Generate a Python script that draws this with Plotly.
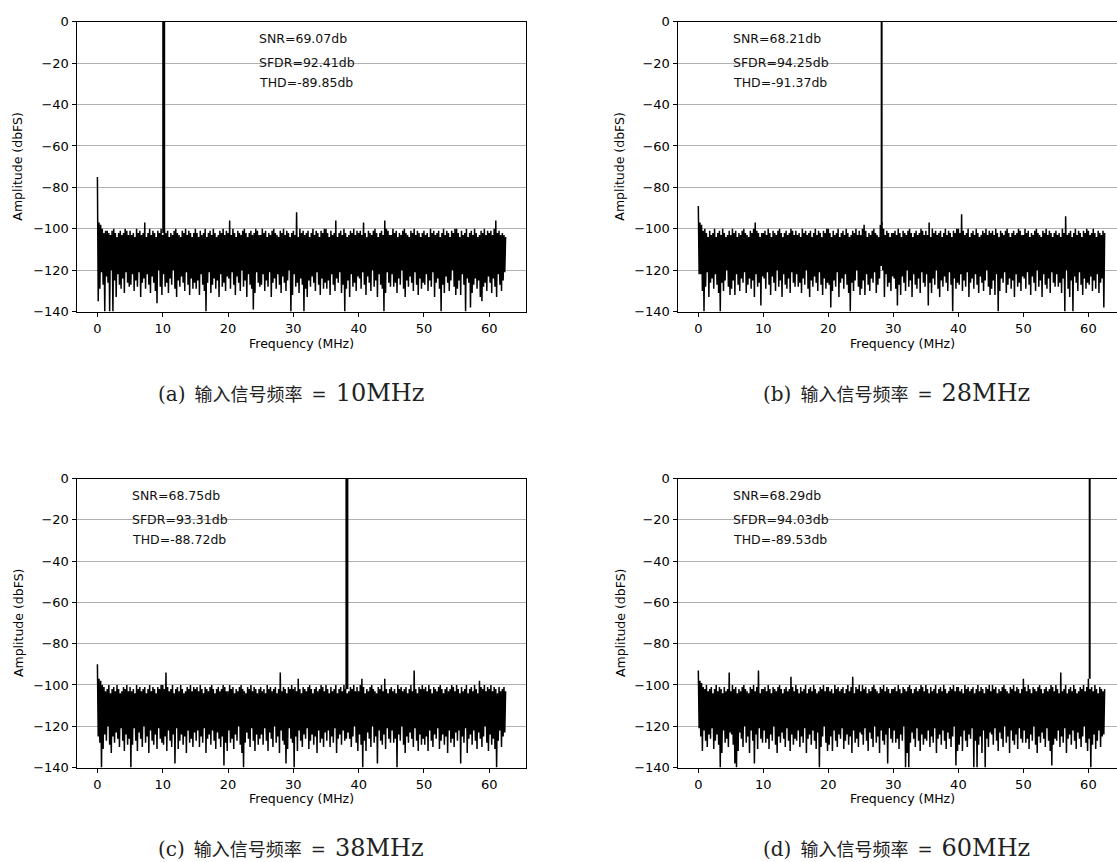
import plotly.graph_objects as go

# ---------------- data ----------------
# FFT bins: "top" samples at 0, 0.25, ... 62.5 MHz; "bottom" samples at 0.125, 0.375, ... 62.375 MHz
bin_step = 0.25
x_ticks = [0, 10, 20, 30, 40, 50, 60]
y_ticks = [0, -20, -40, -60, -80, -100, -120, -140]

cap_label = ["(a)", "(b)", "(c)", "(d)"]
cap_cn = "输入信号频率"
cap_freq = ["10MHz", "28MHz", "38MHz", "60MHz"]
snr = ["69.07", "68.21", "68.75", "68.29"]
sfdr = ["92.41", "94.25", "93.31", "94.03"]
thd = ["-89.85", "-91.37", "-88.72", "-89.53"]
tone_freq = [10.15, 28.2, 38.2, 60.2]
tone_amp = [0.0, 0.0, 0.0, 0.0]
tone_floor = [-102, -98, -102, -97]

tops_a = [
    -75, -97, -98, -100, -102, -101, -101, -102, -103, -101, -100, -102, -104, -102, -101, -103, -102, -100, -101, -103,
    -101, -103, -102, -104, -100, -102, -101, -103, -102, -97, -104, -102, -100, -103, -101, -102, -104, -101, -102, -100,
    -103, -100, -102, -101, -104, -102, -103, -101, -100, -102, -103, -104, -101, -102, -100, -103, -101, -102, -104, -102,
    -100, -102, -104, -101, -103, -102, -100, -104, -102, -101, -103, -100, -102, -104, -103, -101, -102, -100, -103, -101,
    -102, -96, -103, -100, -102, -104, -101, -102, -103, -101, -100, -102, -104, -102, -101, -103, -102, -100, -101, -103,
    -103, -100, -102, -101, -104, -102, -103, -101, -100, -102, -103, -104, -101, -102, -100, -103, -101, -102, -104, -102,
    -101, -103, -92, -104, -100, -102, -101, -103, -102, -101, -104, -102, -100, -103, -101, -102, -104, -101, -102, -100,
    -100, -102, -104, -101, -103, -102, -96, -104, -102, -101, -103, -100, -102, -104, -103, -101, -102, -100, -103, -101,
    -102, -101, -103, -97, -102, -104, -101, -102, -103, -101, -100, -102, -104, -102, -101, -103, -96, -100, -101, -103,
    -103, -100, -102, -101, -104, -102, -103, -101, -100, -102, -103, -104, -101, -102, -100, -103, -101, -102, -104, -102,
    -101, -103, -102, -104, -100, -102, -101, -103, -102, -101, -104, -102, -100, -103, -101, -102, -104, -101, -102, -100,
    -100, -102, -104, -101, -103, -102, -100, -104, -102, -101, -103, -100, -102, -104, -103, -101, -102, -100, -103, -101,
    -102, -101, -103, -100, -96, -102, -101, -103, -102, -103, -104]
bottoms_a = [
    -135, -129, -121, -127, -140, -123, -126, -140, -120, -140, -125, -133, -122, -127, -129, -124, -131, -121, -126, -128,
    -127, -122, -130, -125, -128, -121, -133, -126, -124, -129, -122, -127, -131, -123, -126, -130, -136, -120, -128, -132,
    -122, -128, -126, -131, -124, -127, -120, -129, -133, -125, -128, -123, -126, -130, -121, -127, -132, -124, -129, -126,
    -129, -125, -132, -122, -127, -130, -140, -126, -121, -131, -127, -124, -129, -125, -133, -122, -128, -126, -130, -123,
    -124, -129, -121, -127, -132, -123, -126, -130, -120, -128, -125, -133, -122, -127, -129, -139, -131, -121, -126, -128,
    -127, -122, -130, -125, -128, -121, -133, -126, -124, -129, -122, -127, -131, -123, -126, -130, -125, -120, -140, -132,
    -122, -128, -126, -131, -124, -127, -140, -129, -133, -125, -128, -123, -126, -130, -121, -127, -132, -124, -129, -126,
    -129, -125, -132, -122, -127, -130, -124, -126, -121, -131, -127, -140, -129, -125, -133, -122, -128, -126, -130, -123,
    -124, -129, -121, -127, -132, -123, -126, -130, -120, -128, -125, -133, -122, -127, -129, -140, -131, -121, -126, -128,
    -122, -128, -126, -131, -124, -127, -120, -129, -133, -125, -128, -123, -126, -130, -121, -127, -132, -124, -129, -126,
    -127, -122, -130, -125, -128, -121, -133, -126, -124, -129, -140, -127, -131, -123, -126, -130, -125, -120, -128, -132,
    -129, -125, -132, -122, -127, -140, -124, -126, -138, -131, -127, -124, -129, -125, -133, -135, -128, -126, -130, -123,
    -126, -131, -124, -128, -133, -122, -127, -130, -125, -121]

tops_b = [
    -89, -97, -98, -101, -100, -102, -104, -101, -103, -102, -100, -104, -102, -101, -103, -100, -102, -104, -103, -101,
    -103, -100, -102, -101, -104, -102, -103, -101, -100, -102, -103, -104, -101, -102, -100, -97, -101, -102, -104, -102,
    -102, -101, -103, -100, -102, -104, -101, -102, -103, -101, -100, -102, -104, -102, -101, -103, -102, -100, -101, -103,
    -101, -103, -102, -104, -100, -102, -101, -103, -102, -101, -104, -102, -100, -103, -101, -102, -104, -101, -102, -100,
    -100, -102, -104, -101, -103, -102, -100, -104, -102, -101, -103, -100, -102, -104, -103, -101, -102, -100, -103, -101,
    -103, -100, -98, -101, -104, -102, -103, -101, -100, -102, -103, -104, -98, -97, -100, -103, -101, -102, -104, -102,
    -102, -101, -103, -100, -102, -104, -101, -102, -103, -101, -100, -102, -104, -102, -101, -103, -102, -100, -101, -103,
    -101, -103, -97, -104, -100, -102, -101, -103, -102, -101, -104, -102, -100, -103, -101, -102, -104, -101, -102, -100,
    -100, -102, -93, -101, -103, -102, -100, -104, -102, -101, -103, -100, -102, -104, -103, -101, -102, -100, -103, -101,
    -102, -101, -103, -100, -102, -104, -101, -102, -103, -101, -100, -102, -104, -102, -101, -103, -102, -100, -101, -103,
    -103, -100, -102, -101, -104, -102, -103, -101, -100, -102, -103, -104, -101, -102, -100, -103, -101, -102, -104, -102,
    -101, -103, -102, -104, -100, -102, -94, -103, -102, -101, -104, -102, -100, -103, -101, -102, -104, -101, -102, -100,
    -101, -103, -102, -100, -102, -104, -101, -102, -103, -101, -102]
bottoms_b = [
    -122, -122, -130, -140, -128, -121, -133, -126, -124, -129, -122, -127, -131, -140, -126, -130, -125, -120, -128, -132,
    -129, -125, -132, -122, -127, -130, -124, -126, -121, -131, -127, -124, -129, -125, -133, -122, -128, -126, -137, -123,
    -124, -129, -121, -127, -132, -123, -126, -130, -120, -128, -125, -133, -122, -127, -129, -124, -131, -121, -126, -128,
    -122, -128, -126, -131, -124, -127, -120, -129, -133, -125, -128, -123, -126, -130, -121, -127, -132, -124, -129, -126,
    -127, -138, -130, -125, -128, -121, -133, -126, -124, -129, -122, -127, -131, -140, -126, -130, -125, -120, -128, -132,
    -129, -125, -132, -122, -127, -130, -124, -126, -121, -131, -127, -124, -118, -120, -133, -122, -128, -126, -130, -123,
    -124, -129, -137, -127, -132, -123, -126, -130, -120, -128, -125, -133, -122, -127, -129, -124, -131, -121, -126, -128,
    -122, -137, -126, -131, -124, -127, -120, -129, -133, -125, -128, -123, -126, -130, -121, -127, -140, -124, -129, -126,
    -127, -122, -130, -125, -128, -121, -133, -126, -124, -129, -122, -127, -131, -123, -126, -130, -125, -120, -128, -132,
    -129, -125, -132, -122, -140, -130, -124, -126, -121, -131, -127, -124, -129, -125, -133, -122, -128, -126, -130, -123,
    -124, -129, -121, -127, -132, -123, -126, -130, -120, -128, -125, -133, -122, -127, -129, -124, -131, -121, -126, -128,
    -122, -128, -126, -131, -124, -140, -120, -129, -133, -125, -140, -123, -126, -130, -121, -127, -132, -124, -129, -126,
    -127, -123, -130, -125, -129, -122, -131, -126, -124, -138]

tops_c = [
    -90, -97, -98, -100, -101, -103, -102, -100, -104, -102, -101, -103, -100, -102, -104, -103, -101, -102, -100, -103,
    -101, -103, -102, -104, -100, -102, -101, -103, -102, -101, -104, -102, -100, -103, -101, -102, -104, -101, -102, -100,
    -100, -102, -94, -101, -103, -102, -100, -104, -102, -101, -103, -100, -102, -104, -103, -101, -102, -100, -103, -101,
    -102, -101, -103, -100, -102, -104, -101, -102, -103, -101, -100, -102, -104, -102, -101, -103, -102, -100, -101, -103,
    -103, -100, -102, -101, -104, -102, -103, -101, -100, -102, -103, -104, -101, -102, -100, -103, -101, -102, -104, -102,
    -101, -103, -102, -104, -100, -102, -101, -103, -102, -101, -104, -102, -94, -103, -101, -102, -104, -101, -102, -100,
    -102, -101, -103, -97, -102, -104, -101, -102, -103, -101, -100, -102, -104, -102, -101, -103, -102, -100, -101, -103,
    -100, -102, -104, -101, -103, -102, -100, -104, -102, -101, -103, -100, -102, -104, -103, -101, -102, -100, -103, -101,
    -103, -100, -97, -101, -104, -102, -103, -101, -100, -102, -103, -104, -101, -102, -100, -103, -97, -102, -104, -102,
    -101, -103, -102, -104, -100, -102, -101, -103, -102, -101, -104, -102, -100, -103, -93, -102, -104, -101, -102, -100,
    -102, -101, -103, -100, -102, -104, -101, -102, -103, -101, -100, -102, -104, -102, -101, -103, -102, -100, -101, -103,
    -100, -102, -104, -101, -103, -102, -100, -104, -102, -101, -103, -100, -102, -104, -98, -101, -102, -100, -103, -101,
    -102, -100, -103, -101, -102, -104, -101, -103, -102, -101, -103]
bottoms_c = [
    -125, -128, -140, -131, -124, -127, -120, -129, -133, -125, -128, -123, -126, -130, -121, -127, -132, -124, -129, -126,
    -140, -129, -121, -127, -132, -123, -126, -130, -120, -128, -125, -133, -122, -127, -129, -124, -131, -121, -126, -128,
    -129, -125, -132, -122, -127, -130, -124, -138, -121, -131, -127, -124, -129, -125, -133, -122, -128, -126, -130, -123,
    -127, -122, -130, -125, -128, -121, -133, -126, -124, -129, -122, -127, -131, -123, -126, -130, -125, -139, -128, -132,
    -122, -128, -126, -131, -124, -127, -120, -129, -133, -140, -128, -123, -126, -130, -121, -127, -132, -124, -129, -126,
    -124, -129, -121, -127, -132, -123, -126, -130, -120, -128, -125, -133, -122, -127, -129, -138, -131, -121, -126, -128,
    -140, -125, -132, -122, -127, -130, -124, -126, -121, -131, -127, -124, -129, -125, -133, -122, -128, -126, -130, -123,
    -127, -122, -130, -125, -128, -121, -133, -126, -124, -129, -122, -127, -126, -123, -126, -130, -125, -120, -128, -132,
    -124, -129, -140, -127, -132, -123, -126, -130, -120, -128, -125, -138, -122, -127, -129, -124, -131, -121, -126, -128,
    -122, -128, -126, -140, -124, -127, -120, -129, -133, -125, -128, -123, -126, -130, -121, -127, -132, -124, -129, -126,
    -129, -125, -132, -122, -127, -130, -124, -126, -121, -131, -127, -124, -129, -125, -133, -122, -128, -126, -130, -123,
    -127, -122, -138, -125, -128, -121, -133, -126, -124, -129, -122, -127, -131, -123, -126, -130, -125, -120, -128, -132,
    -124, -129, -126, -131, -140, -127, -122, -130, -125, -123]

tops_d = [
    -93, -98, -99, -101, -102, -100, -103, -102, -101, -104, -102, -100, -103, -101, -102, -104, -101, -103, -102, -94,
    -103, -100, -102, -101, -104, -102, -103, -101, -100, -102, -103, -104, -101, -102, -100, -103, -101, -93, -104, -102,
    -102, -101, -103, -100, -102, -104, -101, -102, -103, -101, -100, -102, -104, -102, -101, -103, -102, -96, -101, -103,
    -100, -102, -104, -101, -103, -102, -100, -104, -102, -101, -103, -100, -102, -104, -103, -101, -102, -100, -103, -101,
    -101, -103, -102, -104, -100, -102, -101, -103, -102, -101, -104, -102, -100, -103, -101, -96, -104, -101, -102, -100,
    -103, -100, -102, -101, -104, -102, -103, -101, -100, -102, -103, -104, -101, -102, -100, -103, -101, -102, -104, -102,
    -102, -101, -103, -100, -102, -104, -101, -102, -103, -101, -100, -102, -104, -102, -101, -103, -102, -100, -101, -103,
    -100, -102, -104, -101, -103, -102, -100, -104, -102, -101, -103, -100, -102, -104, -103, -101, -102, -100, -103, -101,
    -101, -103, -102, -104, -100, -102, -101, -103, -102, -101, -104, -102, -100, -103, -101, -102, -104, -101, -102, -100,
    -103, -100, -102, -101, -104, -102, -103, -101, -100, -102, -103, -104, -101, -102, -100, -103, -101, -102, -104, -102,
    -97, -101, -103, -100, -102, -104, -101, -102, -103, -101, -100, -102, -104, -102, -101, -103, -102, -100, -101, -103,
    -100, -102, -104, -94, -103, -102, -100, -104, -102, -101, -103, -100, -102, -104, -103, -101, -102, -100, -103, -101,
    -97, -102, -101, -103, -100, -102, -104, -101, -102, -103, -102]
bottoms_d = [
    -121, -125, -132, -122, -127, -130, -124, -126, -121, -131, -127, -124, -129, -140, -133, -122, -128, -126, -130, -123,
    -124, -129, -138, -140, -132, -123, -126, -130, -120, -128, -125, -133, -122, -127, -138, -124, -131, -121, -126, -128,
    -122, -128, -126, -131, -124, -127, -120, -129, -133, -125, -128, -123, -126, -130, -121, -127, -132, -124, -129, -126,
    -127, -122, -130, -125, -128, -121, -133, -126, -124, -129, -122, -127, -131, -123, -140, -130, -125, -120, -128, -132,
    -129, -125, -132, -122, -127, -130, -124, -126, -121, -131, -127, -124, -129, -125, -133, -122, -128, -126, -130, -123,
    -124, -129, -121, -127, -132, -123, -126, -130, -120, -128, -125, -133, -122, -127, -129, -124, -138, -121, -126, -128,
    -122, -128, -126, -131, -124, -127, -120, -140, -133, -140, -128, -123, -126, -130, -121, -127, -132, -124, -129, -126,
    -127, -122, -130, -125, -128, -121, -133, -126, -124, -129, -122, -127, -131, -123, -126, -130, -125, -120, -139, -132,
    -129, -125, -132, -122, -127, -130, -124, -126, -121, -140, -127, -140, -129, -125, -133, -122, -140, -126, -130, -123,
    -124, -129, -121, -127, -132, -123, -126, -130, -120, -128, -125, -133, -122, -127, -129, -124, -131, -121, -126, -128,
    -122, -128, -126, -131, -124, -127, -120, -129, -133, -125, -128, -123, -126, -130, -121, -127, -132, -139, -129, -126,
    -127, -122, -130, -125, -128, -121, -133, -126, -124, -129, -122, -127, -131, -123, -126, -130, -125, -120, -128, -132,
    -126, -140, -129, -124, -131, -127, -122, -130, -125, -124]

tops_all = [tops_a, tops_b, tops_c, tops_d]
bottoms_all = [bottoms_a, bottoms_b, bottoms_c, bottoms_d]

# ---------------- layout geometry (pixels in a 1117 x 862 page) ----------------
W, H = 1117, 862
AXW = 449
panels = [
    dict(x0=77, y0=15, y1=310, xr=[-3.125, 65.625], mirror_y=True, ytl=18),
    dict(x0=678, y0=15, y1=310, xr=[-3.125, 64.4], mirror_y=False, ytl=620),
    dict(x0=77, y0=480, y1=774, xr=[-3.125, 65.625], mirror_y=True, ytl=18),
    dict(x0=678, y0=480, y1=774, xr=[-3.125, 64.4], mirror_y=False, ytl=620),
]
cap_pos = [(291, 393), (896, 393), (291, 856), (896, 856)]
tone_width = [3, 2, 3, 2]

tick_font = dict(family="DejaVu Sans", size=13, color="black")
txt_font = dict(family="DejaVu Sans", size=12.5, color="black")
fig = go.Figure()
annotations = []

for k, p in enumerate(panels):
    sfx = "" if k == 0 else str(k + 1)
    xa, ya = "x" + sfx, "y" + sfx
    # FFT trace (alternating top / bottom bins)
    pts = [(i * bin_step, v) for i, v in enumerate(tops_all[k])]
    pts += [(bin_step / 2 + i * bin_step, v) for i, v in enumerate(bottoms_all[k])]
    pts.sort(key=lambda t: t[0])
    fig.add_trace(go.Scatter(
        x=[t[0] for t in pts], y=[t[1] for t in pts], mode="lines",
        line=dict(color="black", width=1.5), hoverinfo="skip", showlegend=False,
        xaxis=xa, yaxis=ya))
    # input tone
    fig.add_trace(go.Scatter(
        x=[tone_freq[k], tone_freq[k]], y=[tone_floor[k], tone_amp[k]], mode="lines",
        line=dict(color="black", width=tone_width[k]), hoverinfo="skip", showlegend=False,
        xaxis=xa, yaxis=ya))

    x1 = min(W, p["x0"] + AXW)
    xd = [p["x0"] / W, x1 / W]
    yd = [1 - p["y1"] / H, 1 - p["y0"] / H]
    fig.update_layout(**{
        "xaxis" + sfx: dict(domain=xd, range=p["xr"], anchor=ya, tickvals=x_ticks,
                            ticks="outside", ticklen=4.5, tickwidth=1, tickcolor="black",
                            showline=True, linecolor="black", linewidth=1, mirror=True,
                            showgrid=False, zeroline=False, tickfont=tick_font),
        "yaxis" + sfx: dict(domain=yd, range=[-140, 0], anchor=xa, tickvals=y_ticks,
                            ticks="outside", ticklen=4.5, tickwidth=1, tickcolor="black",
                            showline=True, linecolor="black", linewidth=1, mirror=p["mirror_y"],
                            showgrid=True, gridcolor="#b0b0b0", gridwidth=1, zeroline=False,
                            tickfont=tick_font),
    })

    # axis titles
    annotations.append(dict(text="Frequency (MHz)", xref="paper", yref="paper",
                            x=(p["x0"] + AXW / 2) / W, y=1 - (p["y1"] + 32) / H,
                            showarrow=False, xanchor="center", yanchor="middle", font=txt_font))
    annotations.append(dict(text="Amplitude (dbFS)", xref="paper", yref="paper",
                            x=p["ytl"] / W, y=1 - (p["y0"] + p["y1"]) / 2 / H, textangle=-90,
                            showarrow=False, xanchor="center", yanchor="middle", font=txt_font))
    # metrics text
    tx = 24.5 if k == 0 else 5
    for txt, yy in [("SNR=" + snr[k] + "db", -8.3), ("SFDR=" + sfdr[k] + "db", -19.6),
                    ("THD=" + thd[k] + "db", -29.3)]:
        annotations.append(dict(text=txt, xref=xa, yref=ya, x=tx, y=yy,
                                showarrow=False, xanchor="left", yanchor="middle",
                                font=dict(family="DejaVu Sans", size=12.5, color="#111111")))
    # caption
    cap = ('<span style="font-family:DejaVu Serif;font-size:20px">' + cap_label[k] + '</span>'
           + '\u2002' + cap_cn + '\u2002'
           + '<span style="font-family:DejaVu Serif;font-size:18px">=</span>\u2002'
           + '<span style="font-family:DejaVu Serif;font-size:24px">' + cap_freq[k] + '</span>')
    annotations.append(dict(text=cap, xref="paper", yref="paper",
                            x=cap_pos[k][0] / W, y=1 - cap_pos[k][1] / H, showarrow=False,
                            xanchor="center", yanchor="middle",
                            font=dict(family="Noto Sans CJK SC", size=18, color="#222222")))

fig.update_layout(width=W, height=H, margin=dict(l=0, r=0, t=0, b=0),
                  paper_bgcolor="white", plot_bgcolor="white",
                  annotations=annotations, showlegend=False)
fig.write_html("out.html", config={"displayModeBar": False},
               post_script="document.body.style.margin='0';document.body.style.overflow='hidden';")
